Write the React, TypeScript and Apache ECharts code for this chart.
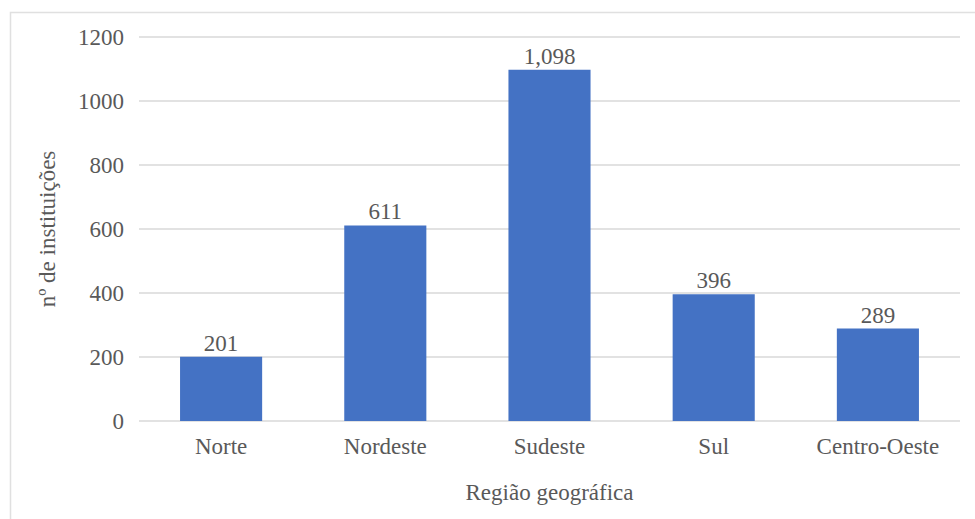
import React, { useEffect, useRef } from "react";
import * as echarts from "echarts";

const categories = ["Norte", "Nordeste", "Sudeste", "Sul", "Centro-Oeste"];
const values = [201, 611, 1098, 396, 289];
const yTicks = { min: 0, max: 1200, interval: 200 };
const yTitle = "nº de instituições";
const xTitle = "Região geográfica";

const FONT = "Liberation Serif";
const TXT = "#595959";

export default function App() {
  const ref = useRef<HTMLDivElement>(null);
  useEffect(() => {
    if (!ref.current) return;
    const chart = echarts.init(ref.current, null, { renderer: "svg" });
    chart.setOption({
      animation: false,
      backgroundColor: "#ffffff",
      textStyle: { fontFamily: FONT },
      graphic: [
        {
          type: "rect",
          shape: { x: 10.5, y: 12.5, width: 1000, height: 600 },
          style: { fill: "none", stroke: "#e0e0e0", lineWidth: 1.5 },
          silent: true,
          z: -1,
        },
      ],
      grid: { left: 139, right: 15, top: 37, bottom: 98 },
      xAxis: {
        type: "category",
        data: categories,
        name: xTitle,
        nameLocation: "middle",
        nameGap: 60,
        nameTextStyle: { fontFamily: FONT, fontSize: 23, color: TXT },
        axisLine: { show: false },
        axisTick: { show: false },
        axisLabel: { fontFamily: FONT, fontSize: 23, color: TXT, margin: 14 },
      },
      yAxis: {
        type: "value",
        min: yTicks.min,
        max: yTicks.max,
        interval: yTicks.interval,
        name: yTitle,
        nameLocation: "middle",
        nameGap: 80,
        nameRotate: 90,
        nameTextStyle: { fontFamily: FONT, fontSize: 23, color: TXT },
        axisLine: { show: false },
        axisTick: { show: false },
        axisLabel: {
          fontFamily: FONT,
          fontSize: 23,
          color: TXT,
          margin: 15,
          formatter: (v: number) => String(v),
        },
        splitLine: { lineStyle: { color: "#d9d9d9", width: 1.5 } },
      },
      series: [
        {
          type: "bar",
          data: values,
          barCategoryGap: "50%",
          itemStyle: { color: "#4472C4" },
          label: {
            show: true,
            position: "top",
            distance: 2,
            fontFamily: FONT,
            fontSize: 23,
            color: TXT,
            formatter: (p: any) => Number(p.value).toLocaleString("en-US"),
          },
        },
      ],
    });
    return () => chart.dispose();
  }, []);
  return (
    <div
      ref={ref}
      style={{ position: "fixed", left: 0, top: 0, width: 975, height: 519 }}
    />
  );
}
